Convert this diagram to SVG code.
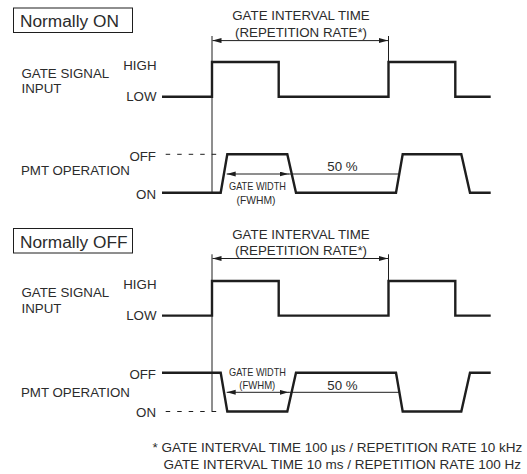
<svg xmlns="http://www.w3.org/2000/svg" width="527" height="474" viewBox="0 0 527 474">
<style>
text{font-family:"Liberation Sans",Arial,sans-serif;fill:#2b2b2b;font-size:13.3px}
.title{font-size:17.3px}
.lbl{text-anchor:end}
.mid{text-anchor:middle}
.gw{font-size:11.5px;text-anchor:middle}
.sig{fill:none;stroke:#1e1e1e;stroke-width:2.4;stroke-linejoin:miter}
.thin{fill:none;stroke:#1e1e1e;stroke-width:1}
.dash{fill:none;stroke:#1e1e1e;stroke-width:1;stroke-dasharray:4.5 7}
.box{fill:none;stroke:#1e1e1e;stroke-width:1}
.foot{font-size:13.5px}
</style>
<defs>
<marker id="ah" markerUnits="userSpaceOnUse" markerWidth="10" markerHeight="6" refX="9" refY="2.5" orient="auto-start-reverse">
<path d="M0,0 L9,2.5 L0,5 Z" fill="#1e1e1e"/>
</marker>
</defs>

<g id="normally-on">
<rect class="box" x="13.5" y="8" width="119" height="24.5"/>
<text class="title" x="20" y="27.3">Normally ON</text>
</g>
<g id="top-interval-label">
<text class="mid" x="301" y="20">GATE INTERVAL TIME</text>
<text class="mid" x="301" y="36.5">(REPETITION RATE*)</text>
</g>
<g id="top-gate-signal">
<text x="21.5" y="77.5">GATE SIGNAL</text>
<text x="21.5" y="93.3">INPUT</text>
<text class="lbl" x="156.5" y="69.5">HIGH</text>
<text class="lbl" x="156.5" y="100.5">LOW</text>
<polyline class="sig" points="162,96.8 212,96.8 212,62 278.7,62 278.7,96.8 388.5,96.8 388.5,62 455.3,62 455.3,96.8 490.7,96.8"/>
</g>
<g id="top-pmt">
<text x="21" y="175">PMT OPERATION</text>
<text class="lbl" x="156" y="160.8">OFF</text>
<text class="lbl" x="156" y="198.7">ON</text>
<line class="dash" x1="165.7" y1="154.3" x2="221" y2="154.3"/>
<polyline class="sig" points="162,192.7 220.7,192.7 227.3,154.3 287.3,154.3 296,192.7 396,192.7 402.7,154.3 461.3,154.3 470,192.7 490.7,192.7"/>
<text class="mid" x="342.5" y="170.5">50 %</text>
<text class="gw" x="257.5" y="190" textLength="57" lengthAdjust="spacingAndGlyphs">GATE WIDTH</text>
<text class="gw" x="256" y="203.5" textLength="39" lengthAdjust="spacingAndGlyphs">(FWHM)</text>
</g>

<g id="normally-off">
<rect class="box" x="13.5" y="228.5" width="119" height="24.5"/>
<text class="title" x="20" y="247.8">Normally OFF</text>
</g>
<g id="bottom-interval-label">
<text class="mid" x="301" y="238.5">GATE INTERVAL TIME</text>
<text class="mid" x="301" y="255">(REPETITION RATE*)</text>
</g>
<g id="bottom-gate-signal">
<text x="21.5" y="297">GATE SIGNAL</text>
<text x="21.5" y="312.8">INPUT</text>
<text class="lbl" x="156.5" y="289">HIGH</text>
<text class="lbl" x="156.5" y="320">LOW</text>
<polyline class="sig" points="162,315.6 212,315.6 212,281 278.7,281 278.7,315.6 388.5,315.6 388.5,281 455.3,281 455.3,315.6 490.7,315.6"/>
</g>
<g id="bottom-pmt">
<text x="21" y="397">PMT OPERATION</text>
<text class="lbl" x="156" y="379">OFF</text>
<text class="lbl" x="156" y="417">ON</text>
<line class="dash" x1="165.7" y1="411.5" x2="221" y2="411.5"/>
<polyline class="sig" points="162,372.7 220.7,372.7 227.3,411.5 287.3,411.5 296,372.7 396,372.7 402.7,411.5 461.3,411.5 470,372.7 490.7,372.7"/>
<text class="mid" x="342.5" y="389.5">50 %</text>
<text class="gw" x="257.5" y="375.5" textLength="57" lengthAdjust="spacingAndGlyphs">GATE WIDTH</text>
<text class="gw" x="257.3" y="388.8" textLength="36" lengthAdjust="spacingAndGlyphs">(FWHM)</text>
</g>

<g id="connectors">
<line class="thin" x1="212" y1="36" x2="212" y2="192.7"/>
<line class="thin" x1="388.5" y1="36" x2="388.5" y2="62"/>
<line class="thin" x1="212.5" y1="40.6" x2="388" y2="40.6" marker-start="url(#ah)" marker-end="url(#ah)"/>
<line class="thin" x1="226.7" y1="174" x2="288.5" y2="174" marker-start="url(#ah)" marker-end="url(#ah)"/>
<line class="thin" x1="288" y1="174" x2="399.3" y2="174"/>

<line class="thin" x1="212" y1="254.3" x2="212" y2="411.5"/>
<line class="thin" x1="388.5" y1="254.3" x2="388.5" y2="281"/>
<line class="thin" x1="212.5" y1="258.5" x2="388" y2="258.5" marker-start="url(#ah)" marker-end="url(#ah)"/>
<line class="thin" x1="226.7" y1="392.3" x2="288.5" y2="392.3" marker-start="url(#ah)" marker-end="url(#ah)"/>
<line class="thin" x1="288" y1="392.3" x2="399.4" y2="392.3"/>
</g>

<g id="footnote">
<text class="foot" x="152.5" y="452.3">* GATE INTERVAL TIME 100 µs / REPETITION RATE 10 kHz</text>
<text class="foot" x="163.5" y="468.5">GATE INTERVAL TIME 10 ms / REPETITION RATE 100 Hz</text>
</g>
</svg>
